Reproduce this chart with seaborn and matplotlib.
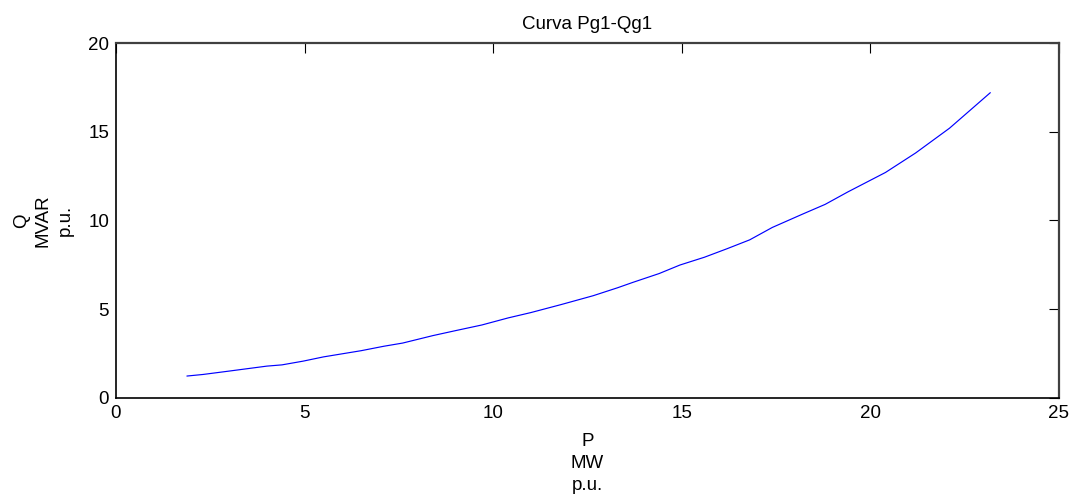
import pandas as pd
import seaborn as sns
import matplotlib.pyplot as plt

# P-Q curve points
p_mw = [1.88, 2.31, 3.0, 4.0, 4.4, 4.96, 5.5, 6.5, 7.1, 7.6, 8.4, 9.0, 9.7,
        10.4, 11.0, 11.8, 12.65, 13.3, 13.7, 14.4, 14.95, 15.6, 16.2, 16.8,
        17.4, 18.2, 18.8, 19.4, 20.4, 21.2, 22.1, 23.18]
q_mvar = [1.22, 1.31, 1.5, 1.78, 1.85, 2.06, 2.3, 2.65, 2.9, 3.08, 3.5, 3.78, 4.1,
          4.5, 4.8, 5.25, 5.75, 6.2, 6.5, 7.0, 7.48, 7.92, 8.4, 8.9,
          9.6, 10.35, 10.9, 11.6, 12.7, 13.8, 15.2, 17.2]
x_ticks = [0, 5, 10, 15, 20, 25]
y_ticks = [0, 5, 10, 15, 20]

df = pd.DataFrame({"P": p_mw, "Q": q_mvar})

sns.set_style("white")
plt.rcParams["font.family"] = ["Liberation Sans", "DejaVu Sans"]
plt.rcParams["text.color"] = "black"
plt.rcParams["axes.labelcolor"] = "black"

fig = plt.figure(figsize=(10.7, 4.95), dpi=100)
ax = fig.add_axes([0.1084, 0.1966, 0.8813, 0.7165])

sns.lineplot(data=df, x="P", y="Q", sort=False, color="#0000ff", linewidth=0.85, ax=ax)

ax.set_xlim(0, 25)
ax.set_ylim(0, 20)
ax.set_xticks(x_ticks)
ax.set_yticks(y_ticks)
ax.tick_params(direction="in", length=7, width=0.8, top=True, right=True,
               labelsize=13.5, colors="black", pad=5)

for side in ["left", "bottom"]:
    ax.spines[side].set_color("black")
    ax.spines[side].set_linewidth(1.2)
for side in ["top", "right"]:
    ax.spines[side].set_color("#404040")
    ax.spines[side].set_linewidth(1.6)

ax.set_title("Curva Pg1-Qg1", fontsize=13.5, pad=10, color="black")
ax.set_xlabel("P\nMW\np.u.", fontsize=13.5, linespacing=1.4, labelpad=8)
ax.set_ylabel("Q\nMVAR\np.u.", fontsize=13.5, linespacing=1.4, labelpad=10)

fig.savefig("out.png", dpi=100)
